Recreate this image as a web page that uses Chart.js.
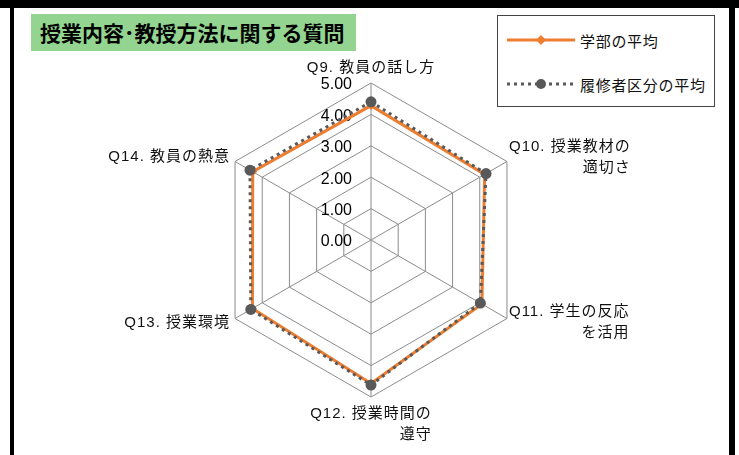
<!DOCTYPE html>
<html lang="ja">
<head>
<meta charset="utf-8">
<title>授業内容･教授方法に関する質問</title>
<script src="https://cdn.jsdelivr.net/npm/chart.js@4"></script>
<style>
  html, body { margin: 0; padding: 0; background: #fff; }
  #wrap { position: relative; width: 739px; height: 455px; overflow: hidden;
          font-family: "Liberation Sans", "Noto Sans CJK JP", sans-serif; }
  #radar { position: absolute; left: 0; top: 0; }
  .bar { position: absolute; background: #000; }
  #title { position: absolute; left: 31px; top: 14px; width: 325px; height: 37px;
           background: #93d590; box-sizing: border-box; padding-left: 9px;
           font: bold 21px "Noto Sans CJK JP", sans-serif; line-height: 37px; color: #000; }
  #legend { position: absolute; left: 497px; top: 15px; width: 218px; height: 92px;
            border: 1px solid #444; box-sizing: border-box; background: #fff; }
  .item { position: absolute; left: 9px; height: 20px; display: flex; align-items: center;
          font: 15px "Noto Sans CJK JP", sans-serif; letter-spacing: 0.7px; color: #111; }
  .item svg { margin-right: 5px; }
</style>
</head>
<body>
<div id="wrap">
  <canvas id="radar" width="739" height="455"></canvas>
  <div class="bar" style="left:0;top:0;width:739px;height:8px"></div>
  <div class="bar" style="left:10px;top:0;width:4px;height:455px"></div>
  <div class="bar" style="left:729px;top:0;width:6px;height:455px"></div>
  <div id="title">授業内容･教授方法に関する質問</div>
  <div id="legend">
    <div class="item" style="top:14px">
      <svg width="68" height="14"><line x1="0" y1="7" x2="68" y2="7" stroke="#ed7d31" stroke-width="3"/>
        <polygon points="34,2 39,7 34,12 29,7" fill="#ed7d31"/></svg>
      <span>学部の平均</span>
    </div>
    <div class="item" style="top:58px">
      <svg width="68" height="14"><line x1="0" y1="7" x2="68" y2="7" stroke="#595959" stroke-width="3" stroke-dasharray="3 4"/>
        <circle cx="34" cy="7" r="5" fill="#595959"/></svg>
      <span>履修者区分の平均</span>
    </div>
  </div>
</div>
<script>
const categories = [
  ['Q9. 教員の話し方'],
  ['Q10. 授業教材の', '適切さ'],
  ['Q11. 学生の反応', 'を活用'],
  ['Q12. 授業時間の', '遵守'],
  ['Q13. 授業環境'],
  ['Q14. 教員の熱意']
];
const facultyAvg = [4.28, 4.18, 4.08, 4.57, 4.36, 4.35];
const groupAvg = [4.40, 4.23, 4.02, 4.62, 4.42, 4.45];
const tickValues = [0, 1, 2, 3, 4, 5];
const tickLabels = ['0.00', '1.00', '2.00', '3.00', '4.00', '5.00'];

const LABEL_FONT = '15px "Liberation Sans", "Noto Sans CJK JP", sans-serif';
const TICK_FONT = '16px "Liberation Sans", sans-serif';

// 目盛ラベル（軸の左側に右寄せ）
const tickLabelPlugin = {
  id: 'tickLabelPlugin',
  beforeDatasetsDraw(chart) {
    const r = chart.scales.r;
    const ctx = chart.ctx;
    ctx.save();
    ctx.font = TICK_FONT;
    ctx.fillStyle = '#000';
    ctx.textAlign = 'right';
    ctx.textBaseline = 'middle';
    tickValues.forEach((v, i) => {
      const y = r.yCenter - r.getDistanceFromCenterForValue(v);
      ctx.fillText(tickLabels[i], r.xCenter - 19, y + 2);
    });
    ctx.restore();
  }
};

// 項目ラベル（複数行は右寄せ）
const pointLabelPlugin = {
  id: 'pointLabelPlugin',
  afterDatasetsDraw(chart) {
    const r = chart.scales.r;
    const ctx = chart.ctx;
    const lh = 21;
    ctx.save();
    ctx.font = LABEL_FONT;
    ctx.letterSpacing = '1px';
    ctx.fillStyle = '#111';
    ctx.textAlign = 'right';
    ctx.textBaseline = 'middle';
    chart.data.labels.forEach((lines, i) => {
      const p = r.getPointPosition(i, r.drawingArea);
      const w = Math.max(...lines.map(t => ctx.measureText(t).width));
      const h = lines.length * lh;
      const dx = p.x - r.xCenter, dy = p.y - r.yCenter;
      let right, top;
      if (dx > 1) { right = p.x + 2 + w; top = p.y - h / 2 + dy * 0.05; }
      else if (dx < -1) { right = p.x - 5; top = p.y - h / 2 + dy * 0.06; }
      else if (dy < 0) { right = p.x + w / 2; top = p.y - 5 - h; }
      else { right = p.x + w / 2; top = p.y + 6; }
      lines.forEach((t, k) => ctx.fillText(t, right, top + lh * (k + 0.5)));
    });
    ctx.restore();
  }
};

new Chart(document.getElementById('radar'), {
  type: 'radar',
  data: {
    labels: categories,
    datasets: [
      {
        label: '学部の平均',
        data: facultyAvg,
        borderColor: '#ed7d31',
        backgroundColor: '#ed7d31',
        borderWidth: 3,
        pointStyle: 'rectRot',
        pointRadius: 4.5,
        pointBorderWidth: 0,
        fill: false,
        tension: 0,
        order: 1
      },
      {
        label: '履修者区分の平均',
        data: groupAvg,
        borderColor: '#595959',
        backgroundColor: '#595959',
        borderWidth: 3,
        borderDash: [3, 4],
        pointStyle: 'circle',
        pointRadius: 5.5,
        pointBorderWidth: 0,
        fill: false,
        tension: 0,
        order: 0
      }
    ]
  },
  options: {
    responsive: false,
    animation: false,
    layout: { padding: { left: 214, right: 211, top: 83, bottom: 58 } },
    plugins: { legend: { display: false }, tooltip: { enabled: false } },
    scales: {
      r: {
        min: 0,
        max: 5,
        ticks: { stepSize: 1, display: false },
        pointLabels: { display: false },
        grid: { color: '#8c8c8c', lineWidth: 1 },
        angleLines: { color: '#8c8c8c', lineWidth: 1 }
      }
    }
  },
  plugins: [tickLabelPlugin, pointLabelPlugin]
});
</script>
</body>
</html>
